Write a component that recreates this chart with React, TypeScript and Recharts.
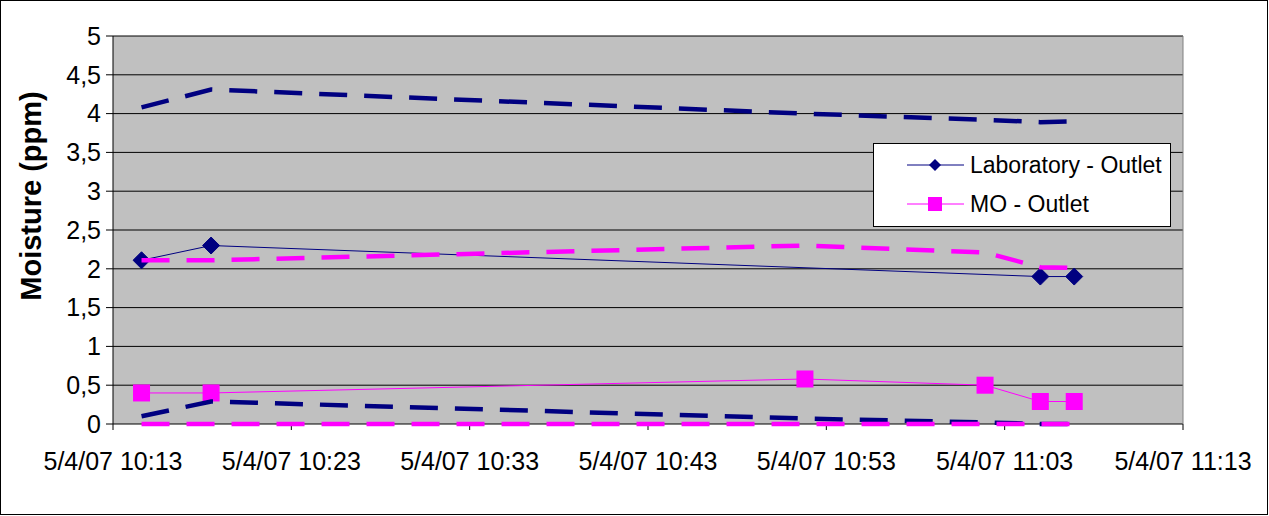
import { LineChart, Line, XAxis, YAxis, CartesianGrid, ReferenceLine } from "recharts";

// minutes after 10:13 on 5/4/07
const TIMES = [1.6, 5.5, 38.8, 48.9, 52.0, 53.9];
const LAB_OUTLET = [2.11, 2.3, null, null, 1.9, 1.9];
const MO_OUTLET = [0.4, 0.4, 0.58, 0.5, 0.29, 0.29];
// dashed limit lines
const LAB_UPPER = [4.08, 4.31, 4.0, 3.92, 3.89, 3.9];
const LAB_LOWER = [0.1, 0.29, 0.07, 0.02, 0, 0];
const MO_UPPER = [2.11, 2.11, 2.3, 2.21, 2.02, 2.01];
const MO_LOWER = [0, 0, 0, 0, 0, 0];

const X_TICKS = [0, 10, 20, 30, 40, 50, 60];
const X_LABELS = [
  "5/4/07 10:13",
  "5/4/07 10:23",
  "5/4/07 10:33",
  "5/4/07 10:43",
  "5/4/07 10:53",
  "5/4/07 11:03",
  "5/4/07 11:13",
];
const Y_TICKS = [0, 0.5, 1, 1.5, 2, 2.5, 3, 3.5, 4, 4.5, 5];

const NAVY = "#000080";
const PINK = "#FF00FF";
const FONT = "'Liberation Sans', Arial, sans-serif";

const data = TIMES.map((t, i) => ({
  t,
  lab: LAB_OUTLET[i],
  mo: MO_OUTLET[i],
  labUp: LAB_UPPER[i],
  labLow: LAB_LOWER[i],
  moUp: MO_UPPER[i],
  moLow: MO_LOWER[i],
}));

const Diamond = (props: any) => {
  const { cx, cy } = props;
  if (cx == null || cy == null) return null;
  const r = 8.5;
  return (
    <polygon
      points={`${cx},${cy - r} ${cx + r},${cy} ${cx},${cy + r} ${cx - r},${cy}`}
      fill={NAVY}
      stroke={NAVY}
    />
  );
};

const Square = (props: any) => {
  const { cx, cy } = props;
  if (cx == null || cy == null) return null;
  const s = 17;
  return <rect x={cx - s / 2} y={cy - s / 2} width={s} height={s} fill={PINK} />;
};

const YLabel = () => (
  <text
    x={31}
    y={196}
    transform="rotate(-90 31 196)"
    textAnchor="middle"
    dominantBaseline="central"
    fontFamily={FONT}
    fontWeight="bold"
    fontSize={29}
    fill="#000"
  >
    Moisture (ppm)
  </text>
);

const LegendBox = () => (
  <div
    style={{
      position: "absolute",
      left: 873,
      top: 143,
      width: 298,
      height: 84,
      boxSizing: "border-box",
      border: "1px solid #000",
      background: "#fff",
      fontFamily: FONT,
      fontSize: 23,
    }}
  >
    {[
      { name: "Laboratory - Outlet", color: NAVY, shape: "diamond", y: 21 },
      { name: "MO - Outlet", color: PINK, shape: "square", y: 60 },
    ].map((item) => (
      <div key={item.name} style={{ position: "absolute", left: 0, top: item.y - 14, height: 28, display: "flex", alignItems: "center" }}>
        <svg width={96} height={28} style={{ display: "block" }}>
          <line x1={33} y1={14} x2={90} y2={14} stroke={item.color} strokeWidth={1} />
          {item.shape === "diamond" ? (
            <polygon points="61,8 67,14 61,20 55,14" fill={item.color} />
          ) : (
            <rect x={54} y={7} width={14} height={14} fill={item.color} />
          )}
        </svg>
        <span style={{ whiteSpace: "nowrap" }}>{item.name}</span>
      </div>
    ))}
  </div>
);

export default function App() {
  return (
    <div style={{ position: "absolute", left: 0, top: 0, width: 1269, height: 516, background: "#fff" }}>
      <LineChart width={1269} height={516} data={data} margin={{ top: 36, right: 86, bottom: 0, left: 0 }}>
        <CartesianGrid horizontal vertical={false} stroke="#000" fill="#C0C0C0" fillOpacity={1} />
        <XAxis
          dataKey="t"
          type="number"
          domain={[0, 60]}
          ticks={X_TICKS}
          tickFormatter={(v: number) => X_LABELS[X_TICKS.indexOf(v)]}
          height={92}
          stroke="#000"
          axisLine={false}
          tickSize={6}
          tickMargin={22}
          tick={{ fill: "#000", fontSize: 25, fontFamily: FONT }}
          interval={0}
        />
        <YAxis
          domain={[0, 5]}
          ticks={Y_TICKS}
          width={113}
          stroke="#000"
          tickSize={7}
          tickMargin={5}
          tickFormatter={(v: number) => String(v).replace(".", ",")}
          tick={{ fill: "#000", fontSize: 25, fontFamily: FONT }}
          interval={0}
          label={<YLabel />}
        />
        <ReferenceLine x={60} stroke="#808080" strokeWidth={1} />
        <Line dataKey="lab" stroke={NAVY} strokeWidth={1} dot={<Diamond />} connectNulls isAnimationActive={false} zIndex={700} />
        <Line dataKey="mo" stroke={PINK} strokeWidth={1} dot={<Square />} isAnimationActive={false} zIndex={700} />
        <Line dataKey="labUp" stroke={NAVY} strokeWidth={4.5} strokeDasharray="28 17" dot={false} isAnimationActive={false} zIndex={700} />
        <Line dataKey="labLow" stroke={NAVY} strokeWidth={4.5} strokeDasharray="28 17" dot={false} isAnimationActive={false} zIndex={700} />
        <Line dataKey="moUp" stroke={PINK} strokeWidth={4.5} strokeDasharray="28 17" dot={false} isAnimationActive={false} zIndex={700} />
        <Line dataKey="moLow" stroke={PINK} strokeWidth={4.5} strokeDasharray="28 17" dot={false} isAnimationActive={false} zIndex={700} />
      </LineChart>
      <LegendBox />
      <div
        style={{
          position: "absolute",
          left: 0,
          top: 0,
          width: 1268,
          height: 515,
          boxSizing: "border-box",
          border: "1px solid #000",
          pointerEvents: "none",
        }}
      />
    </div>
  );
}
